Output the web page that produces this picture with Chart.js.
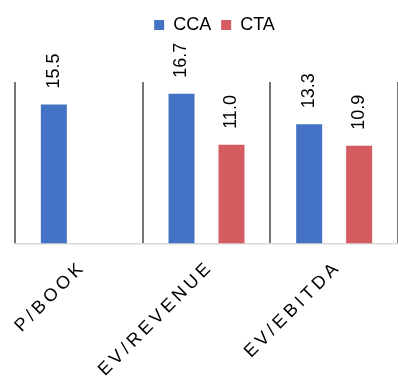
<!DOCTYPE html>
<html>
<head>
<meta charset="utf-8">
<script src="https://cdn.jsdelivr.net/npm/chart.js@4.4.1/dist/chart.umd.min.js"></script>
<style>
  html, body { margin: 0; padding: 0; background: #ffffff; }
  #wrap { width: 398px; height: 382px; position: relative; }
</style>
</head>
<body>
<div id="wrap"><canvas id="c" width="398" height="382"></canvas></div>
<script>
const categories = ["P/BOOK", "EV/REVENUE", "EV/EBITDA"];
const seriesNames = ["CCA", "CTA"];
const ccaValues = [15.5, 16.7, 13.3];
const ctaValues = [null, 11.0, 10.9];
const valueLabels = [["15.5", "16.7", "13.3"], [null, "11.0", "10.9"]];

const FONT = "'Liberation Sans', Arial, sans-serif";

const valueLabelPlugin = {
  id: 'valueLabels',
  afterDatasetsDraw(chart) {
    const ctx = chart.ctx;
    ctx.save();
    ctx.font = "18px " + FONT;
    ctx.fillStyle = "#000000";
    ctx.textAlign = "left";
    ctx.textBaseline = "middle";
    chart.data.datasets.forEach((ds, di) => {
      const meta = chart.getDatasetMeta(di);
      meta.data.forEach((bar, i) => {
        const txt = valueLabels[di][i];
        if (ds.data[i] == null || txt == null) return;
        ctx.save();
        ctx.translate(bar.x, bar.y - 16);
        ctx.rotate(-Math.PI / 2);
        ctx.fillText(txt, 0, 0);
        ctx.restore();
      });
    });
    ctx.restore();
    // letter spacing for the x-axis tick labels (drawn after datasets, z=1)
    ctx.letterSpacing = "3.8px";
  },
  afterDraw(chart) {
    chart.ctx.letterSpacing = "0px";
  },
  beforeInit(chart) {
    const lg = chart.legend;
    if (lg) {
      const origFit = lg.fit;
      lg.fit = function () {
        origFit.call(this);
        this.height = 76;
      };
      const origDraw = lg.draw;
      lg.draw = function () {
        const c = this.ctx;
        c.save();
        c.translate(8, 0);
        origDraw.call(this);
        c.restore();
      };
    }
  }
};

new Chart(document.getElementById('c'), {
  type: 'bar',
  data: {
    labels: categories,
    datasets: [
      { label: seriesNames[0], data: ccaValues, backgroundColor: '#4472C4', borderWidth: 0 },
      { label: seriesNames[1], data: ctaValues, backgroundColor: '#D45B5F', borderWidth: 0 }
    ]
  },
  options: {
    responsive: false,
    animation: false,
    devicePixelRatio: 1,
    layout: { padding: { top: 6, left: 15, right: 0, bottom: 0 } },
    datasets: { bar: { categoryPercentage: 0.783, barPercentage: 0.52 } },
    plugins: {
      legend: {
        position: 'top',
        labels: {
          boxWidth: 10, boxHeight: 10, padding: 10,
          color: '#000000',
          font: { family: FONT, size: 18 }
        }
      },
      tooltip: { enabled: false }
    },
    scales: {
      x: {
        offset: true,
        afterFit(s) { s.height = 138.5; },
        grid: {
          display: true,
          offset: true,
          drawTicks: false,
          color: (ctx) => (ctx.index === 3 ? 'rgba(0,0,0,0)' : '#757575'),
          lineWidth: 2
        },
        border: { display: true, color: '#d9d9d9', width: 1.5 },
        ticks: {
          z: 1,
          minRotation: 45, maxRotation: 45,
          padding: 13,
          labelOffset: 4,
          color: '#000000',
          font: { family: FONT, size: 18 }
        }
      },
      y: {
        display: false,
        min: 0, max: 18
      }
    }
  },
  plugins: [valueLabelPlugin]
});
</script>
</body>
</html>
